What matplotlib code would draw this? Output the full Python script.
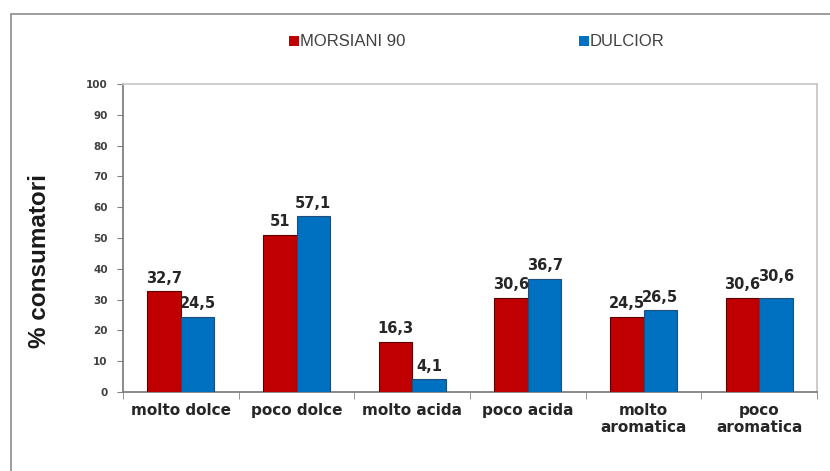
import matplotlib
matplotlib.use("Agg")
import matplotlib.pyplot as plt
from matplotlib.patches import Rectangle
import numpy as np

categories = ["molto dolce", "poco dolce", "molto acida", "poco acida",
              "molto\naromatica", "poco\naromatica"]
morsiani = [32.7, 51, 16.3, 30.6, 24.5, 30.6]
dulcior = [24.5, 57.1, 4.1, 36.7, 26.5, 30.6]
series_names = ["MORSIANI 90", "DULCIOR"]
yticks = list(range(0, 101, 10))

RED = "#C00000"
BLUE = "#0070C0"
WIDE = ["DejaVu Sans"]
NARROW = ["Liberation Sans", "DejaVu Sans"]

fig = plt.figure(figsize=(8.30, 4.71), dpi=100)
fig.patch.set_facecolor("white")

# outer frame around the chart area
fig.patches.append(Rectangle((11 / 830, -0.05), 1.2, 1 - 14 / 471 + 0.05,
                             transform=fig.transFigure, fill=False,
                             edgecolor="#8c8c8c", linewidth=1.2, zorder=0))

ax = fig.add_axes([123 / 830, 1 - 392 / 471, (817 - 123) / 830, (392 - 84) / 471])

x = np.arange(len(categories))
w = 0.29
ax.bar(x - w / 2, morsiani, w, color=RED, edgecolor="#5a0000", linewidth=0.8,
       label=series_names[0], zorder=3)
ax.bar(x + w / 2, dulcior, w, color=BLUE, edgecolor="#1f4e79", linewidth=0.8,
       label=series_names[1], zorder=3)


def fmt(v):
    return f"{v:g}".replace(".", ",")


for xi, v in zip(x, morsiani):
    ax.annotate(fmt(v), (xi - w / 2, v), xytext=(0, 4), textcoords="offset points",
                ha="center", va="bottom", fontsize=10.5, fontweight="bold",
                color="#262626", family=WIDE)
for i, (xi, v) in enumerate(zip(x, dulcior)):
    dy = 10 if morsiani[i] == v else 4
    ax.annotate(fmt(v), (xi + w / 2, v), xytext=(0, dy), textcoords="offset points",
                ha="center", va="bottom", fontsize=10.5, fontweight="bold",
                color="#262626", family=WIDE)

ax.set_xlim(-0.5, len(categories) - 0.5)
ax.set_ylim(0, 100)
ax.set_yticks(yticks)
ax.set_yticklabels([str(t) for t in yticks], fontsize=7.5, fontweight="bold",
                   color="#404040", family=WIDE)
ax.set_xticks(x)
ax.set_xticklabels(categories, fontsize=11, fontweight="bold", color="#262626",
                   linespacing=1.15, family=WIDE)
ax.tick_params(axis="x", length=0, pad=8)
ax.set_xticks(np.arange(-0.5, len(categories) + 0.5, 1), minor=True)
ax.tick_params(axis="x", which="minor", length=5, direction="out", color="#808080")
ax.tick_params(axis="y", length=4, direction="out", color="#808080", pad=7)

for s in ["left", "bottom"]:
    ax.spines[s].set_color("#808080")
    ax.spines[s].set_linewidth(1.3)
for s in ["top", "right"]:
    ax.spines[s].set_color("#c8c8c8")
    ax.spines[s].set_linewidth(1.3)

fig.text(39 / 830, 1 - 261 / 471, "% consumatori", rotation=90, ha="center",
         va="center", fontsize=17.5, fontweight="bold", color="#1a1a1a",
         family=NARROW)

# legend entries placed across the top
leg_items = [(289, series_names[0], RED), (579, series_names[1], BLUE)]
for px, name, col in leg_items:
    fig.patches.append(Rectangle((px / 830, 1 - 46 / 471), 10 / 830, 10 / 471,
                                 transform=fig.transFigure, facecolor=col,
                                 edgecolor="none"))
    fig.text((px + 11) / 830, 1 - 41 / 471, name, ha="left", va="center",
             fontsize=12, color="#404040", family=NARROW)

fig.savefig("out.png", dpi=100, facecolor="white")
